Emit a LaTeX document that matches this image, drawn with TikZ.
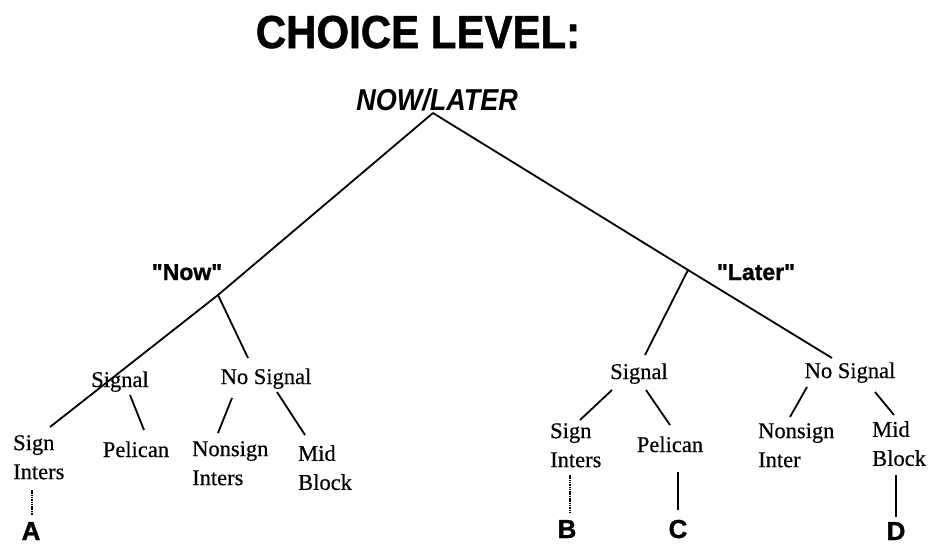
\documentclass[tikz,border=0pt]{standalone}
\usepackage{fontspec}
\setmainfont{Liberation Serif}[FakeBold=0.4]
\newfontfamily\headfont{Liberation Sans}[BoldFeatures={FakeBold=1.2}]
\usepackage{tikz}
\usetikzlibrary{positioning}

\begin{document}
\begin{tikzpicture}[
  x=1pt, y=-1pt,
  branch/.style={line width=1.8pt},
  faint/.style={line width=1.1pt, dash pattern=on 1.5pt off 0.8pt},
  leaf/.style={font=\fontsize{22.5}{29}\selectfont, align=left, inner sep=0pt},
  choice/.style={font=\headfont\bfseries\fontsize{23}{23}\selectfont, inner sep=0pt},
  outcome/.style={font=\headfont\bfseries\fontsize{26}{26}\selectfont, inner sep=0pt},
  scale=1
]
\useasboundingbox (0,0) rectangle (929,546);

% ==================
% Headings
% ==================
\node[anchor=base, inner sep=0pt, font=\headfont\bfseries\fontsize{42}{42}\selectfont]
  (title) at (418,48) {\scalebox{1}[1.1]{CHOICE LEVEL:}};
\node[anchor=base, inner sep=0pt, font=\headfont\bfseries\itshape\fontsize{27}{27}\selectfont]
  (root) at (437,110) {\scalebox{1}[1.12]{NOW/LATER}};
\coordinate (apex) at (433,113);

% ==================
% First split
% ==================
\node[choice, anchor=base] (now) at (187,280) {"Now"};
\node[choice, anchor=base] (later) at (756,280) {"Later"};
\coordinate (nowfork) at (218,295);
\coordinate (laterfork) at (688,270);

% ==================
% Signal / no signal
% ==================
\node[leaf, anchor=base] (lsig) at (120,387) {Signal};
\node[leaf, anchor=base] (lnosig) at (266,384) {No Signal};
\node[leaf, anchor=base] (rsig) at (639,379) {Signal};
\node[leaf, anchor=base] (rnosig) at (850,378) {No Signal};

% ==================
% Crossing types
% ==================
% left
\node[leaf, anchor=north west] (lsign) at (13,435) {Sign\\Inters};
\node[leaf, anchor=base] (lpel) at (136,457) {Pelican};
\node[leaf, anchor=north west] (lnonsign) at (192,441) {Nonsign\\Inters};
\node[leaf, anchor=north west] (lmid) at (298,445) {Mid\\Block};
% right
\node[leaf, anchor=north west] (rsign) at (550,423) {Sign\\Inters};
\node[leaf, anchor=base] (rpel) at (670,452) {Pelican};
\node[leaf, anchor=north west] (rnonsign) at (758,423) {Nonsign\\Inter};
\node[leaf, anchor=north west] (rmid) at (872,421) {Mid\\Block};

% ==================
% Outcomes
% ==================
\node[outcome, anchor=base] (A) at (31,540) {A};
\node[outcome, anchor=base] (B) at (567,538) {B};
\node[outcome, anchor=base] (C) at (678,538) {C};
\node[outcome, anchor=base] (D) at (896,540) {D};

% line ends next to the labels
\coordinate (lsigtop) at (50,427);
\coordinate (lnosigtop) at (248,358);
\coordinate (lsig1) at (130,395);   \coordinate (lpeltop) at (144,430);
\coordinate (lnosig1) at (232,398); \coordinate (lnonsigntop) at (218,433);
\coordinate (lnosig2) at (277,392); \coordinate (lmidtop) at (305,435);
\coordinate (lsignbot) at (32,490); \coordinate (Atop) at (32,515);

\coordinate (rnosigtop) at (832,358);
\coordinate (rsigtop) at (645,355);
\coordinate (rsig1) at (612,390);   \coordinate (rsigntop) at (580,420);
\coordinate (rsig2) at (646,390);   \coordinate (rpeltop) at (670,425);
\coordinate (rnosig1) at (807,387); \coordinate (rnonsigntop) at (790,417);
\coordinate (rnosig2) at (875,392); \coordinate (rmidtop) at (894,415);
\coordinate (rsignbot) at (570,475); \coordinate (Btop) at (570,512);
\coordinate (rpelbot) at (678,472);  \coordinate (Ctop) at (678,510);
\coordinate (rmidbot) at (896,475);  \coordinate (Dtop) at (896,517);

% ==================
% Branches
% ==================
\draw[branch] (apex) -- (nowfork) -- (lsigtop);
\draw[branch] (nowfork) -- (lnosigtop);
\draw[branch] (lsig1) -- (lpeltop);
\draw[branch] (lnosig1) -- (lnonsigntop);
\draw[branch] (lnosig2) -- (lmidtop);
\draw[faint] (lsignbot) -- (Atop);

\draw[branch] (apex) -- (laterfork) -- (rnosigtop);
\draw[branch] (laterfork) -- (rsigtop);
\draw[branch] (rsig1) -- (rsigntop);
\draw[branch] (rsig2) -- (rpeltop);
\draw[branch] (rnosig1) -- (rnonsigntop);
\draw[branch] (rnosig2) -- (rmidtop);
\draw[faint] (rsignbot) -- (Btop);
\draw[branch] (rpelbot) -- (Ctop);
\draw[branch] (rmidbot) -- (Dtop);
\end{tikzpicture}
\end{document}
